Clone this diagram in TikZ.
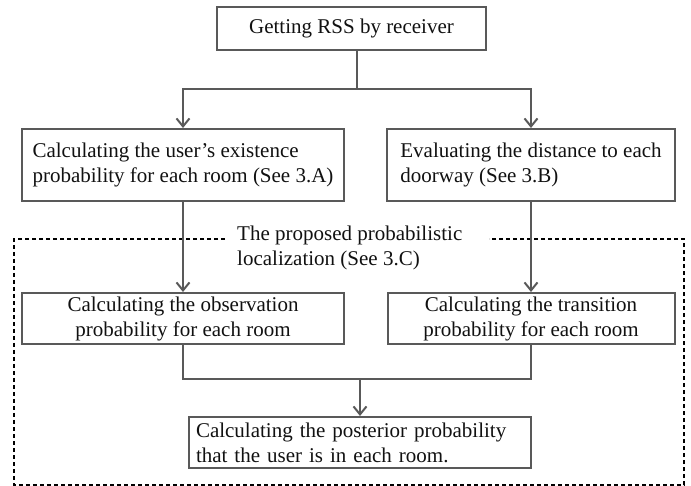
\documentclass[tikz,border=0pt]{standalone}
\usepackage{fontspec}
\setmainfont{Liberation Serif}
\usetikzlibrary{arrows.meta,calc}
\definecolor{edge}{HTML}{595959}
\definecolor{ink}{HTML}{111111}
\tikzset{
  stepbox/.style={draw=edge,line width=2pt,minimum height=#1,inner xsep=7pt,inner ysep=0pt},
  flow/.style={draw=edge,line width=2pt},
}
\begin{document}
\begin{tikzpicture}[x=1pt,y=-1pt,font=\fontsize{21}{25}\selectfont,text=ink,>={Straight Barb[length=8pt,width=13pt,line width=2pt]}]
  \useasboundingbox (0,0) rectangle (691,486);
  \node[stepbox=43pt,minimum width=269pt] (rss) at (351.5,28.5) {Getting RSS by receiver};
  \node[stepbox=72pt,minimum width=322pt,align=left] (exist) at (183,165) {Calculating the user's existence\\probability for each room (See 3.A)};
  \node[stepbox=72pt,minimum width=288pt,align=left] (dist) at (531,165) {Evaluating the distance to each\\doorway (See 3.B)};
  \node[stepbox=51pt,minimum width=322pt,align=center] (obs) at (183,318.5) {Calculating the observation\\probability for each room};
  \node[stepbox=51pt,minimum width=287pt,align=center] (trans) at (531,318.5) {Calculating the transition\\probability for each room};
  \node[stepbox=51pt,minimum width=342pt,text width=328pt,align=left] (post) at (360,442.5) {Calculating the posterior probability\\that the user is in each room.};
  \node[anchor=north west,align=left,inner sep=0pt] (frame) at (237,226) {The proposed probabilistic\\localization (See 3.C)};
  \draw[black,line width=1.2pt,dash pattern=on 4pt off 3pt] (225,239) -- (14,239) -- (14,485) -- (684,485) -- (684,239) -- (489,239);
  \coordinate (split) at (357,89);
  \coordinate (merge) at (360,379);
  \draw[flow] (rss.south -| split) -- (split);
  \draw[flow,->] (split) -| (exist.north);
  \draw[flow,->] (split) -| (dist.north);
  \draw[flow,->] (exist) -- (obs);
  \draw[flow,->] (dist) -- (trans);
  \draw[flow] (obs.south) |- (merge) -| (trans.south);
  \draw[flow,->] (merge) -- (post.north);
\end{tikzpicture}
\end{document}
